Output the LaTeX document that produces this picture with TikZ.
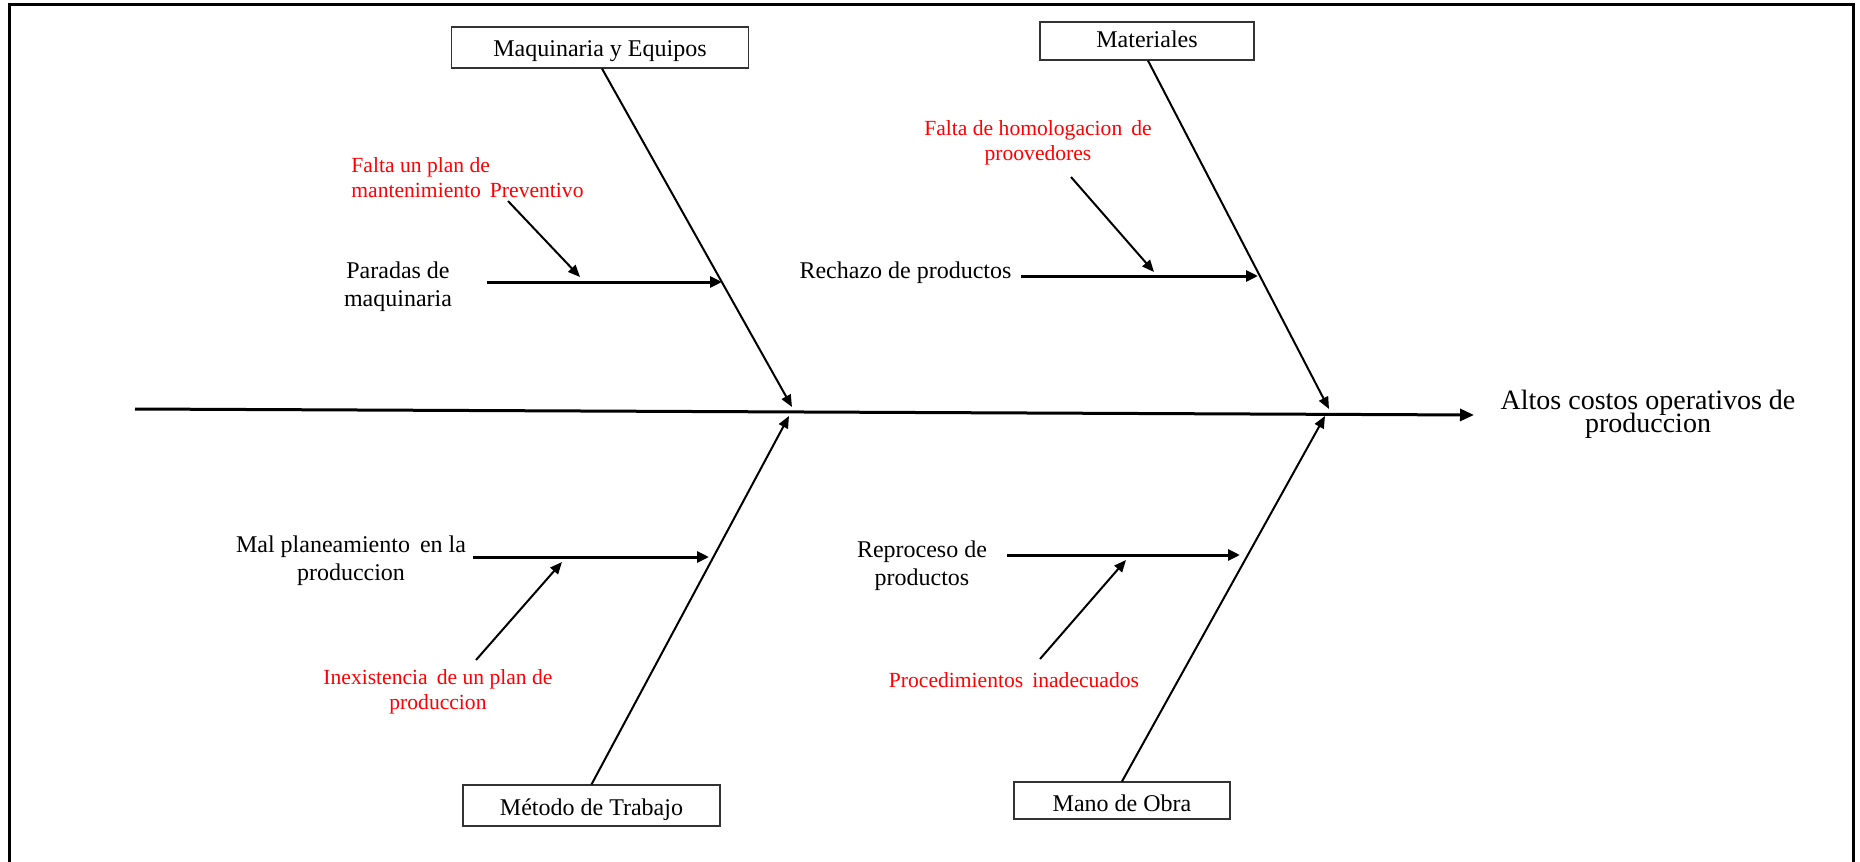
\documentclass[tikz,border=0pt]{standalone}
\usepackage{fontspec}
\setmainfont{Liberation Serif}
\usetikzlibrary{arrows.meta}
\tikzset{
  catbox/.style={draw=black!80, line width=0.6pt, inner sep=0pt, text height=9.2pt, text depth=0pt, font=\fontsize{12}{14}\selectfont},
  blabel/.style={inner sep=0pt, align=center, font=\fontsize{12}{14}\selectfont},
  rlabel/.style={inner sep=0pt, align=center, text=red, font=\fontsize{10.8}{12.6}\selectfont},
  spine/.style={line width=1.5pt, -{Triangle[length=7pt,width=6pt]}},
  bone/.style={line width=1pt, -{Triangle[length=6pt,width=5pt]}},
  twig/.style={line width=1.5pt, -{Triangle[length=6pt,width=5.5pt]}},
  sub/.style={line width=1pt, -{Triangle[length=6pt,width=5pt]}},
}
\begin{document}
\begin{tikzpicture}[x=0.5pt,y=-0.5pt]
\useasboundingbox (0,0) rectangle (1860,862);
% frame (bottom edge lies outside the picture)
\draw[line width=1.5pt] (9.5,870) -- (9.5,4.5) -- (1853,4.5) -- (1853,870);

% category boxes
\node[catbox, minimum width=148.5pt, minimum height=20.5pt] (maq) at (600,47.5) {Maquinaria y Equipos};
\node[catbox, text height=6.8pt, minimum width=107pt, minimum height=19pt] (mat) at (1147,41) {Materiales};
\node[catbox, text height=10.2pt, minimum width=128.5pt, minimum height=20.5pt] (met) at (591.5,805.5) {Método de Trabajo};
\node[catbox, text height=10.5pt, minimum width=108pt, minimum height=18.5pt] (mano) at (1122,800.5) {Mano de Obra};

% effect
\node[inner sep=0pt, align=center, font={\fontsize{14}{11.3}\selectfont\lineskiplimit=-20pt}] (efecto) at (1648,414) {Altos costos operativos de\\produccion};

% cause labels
\node[blabel] (paradas) at (398,286.5) {Paradas de\\maquinaria};
\node[blabel] (rechazo) at (905.5,272.5) {Rechazo de productos};
\node[blabel] (mal) at (351,560.5) {Mal planeamiento\, en la\\produccion};
\node[blabel] (repro) at (922,566) {Reproceso de\\productos};

\node[rlabel, align=left, anchor=west] (falta) at (351,178) {Falta un plan de\\mantenimiento\, Preventivo};
\node[rlabel] (homol) at (1038,142.5) {Falta de homologacion\, de\\proovedores};
\node[rlabel] (inex) at (438,691.5) {Inexistencia\, de un plan de\\produccion};
\node[rlabel] (proc) at (1014,680) {Procedimientos\, inadecuados};

% coordinates
\coordinate (s0) at (135,409);
\coordinate (s1) at (1474,415);
\coordinate (tmaq) at (792,407);
\coordinate (tmat) at (1329,409);
\coordinate (tmet) at (789,416);
\coordinate (tmano) at (1325,416);
\coordinate (p0) at (487,282);  \coordinate (p1) at (722,282);
\coordinate (f0) at (508,201);  \coordinate (f1) at (580,277);
\coordinate (r0) at (1021,276); \coordinate (r1) at (1258,276);
\coordinate (h0) at (1071,177); \coordinate (h1) at (1154,272);
\coordinate (m0) at (473,557);  \coordinate (m1) at (709,557);
\coordinate (i0) at (476,660);  \coordinate (i1) at (562,562);
\coordinate (q0) at (1007,555); \coordinate (q1) at (1240,555);
\coordinate (c0) at (1040,659); \coordinate (c1) at (1126,560);

% spine
\draw[spine] (s0) -- (s1);
% bones
\draw[bone] (maq.south -| 602,0) -- (tmaq);
\draw[bone] (mat.south -| 1148,0) -- (tmat);
\draw[bone] (met.north) -- (tmet);
\draw[bone] (mano.north) -- (tmano);
% causes
\draw[twig] (p0) -- (p1);
\draw[twig] (r0) -- (r1);
\draw[twig] (m0) -- (m1);
\draw[twig] (q0) -- (q1);
% sub-causes
\draw[sub] (f0) -- (f1);
\draw[sub] (h0) -- (h1);
\draw[sub] (i0) -- (i1);
\draw[sub] (c0) -- (c1);
\end{tikzpicture}
\end{document}
